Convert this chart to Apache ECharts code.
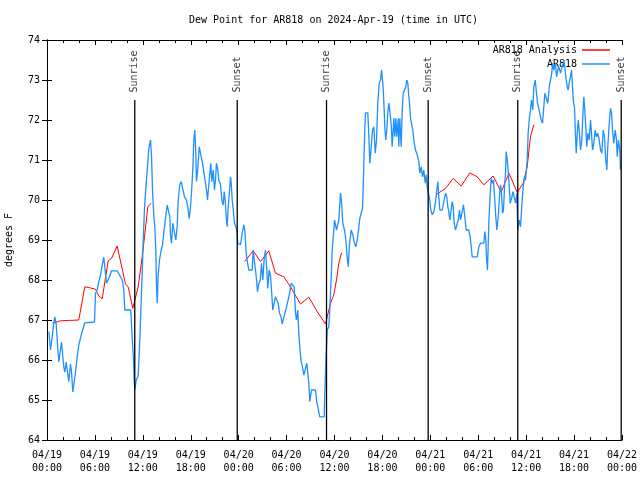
<!DOCTYPE html>
<html>
<head>
<meta charset="utf-8">
<script src="https://cdn.jsdelivr.net/npm/echarts@6/dist/echarts.min.js"></script>
<style>html,body{margin:0;padding:0;background:#fff}#c{width:640px;height:480px}</style>
</head>
<body>
<div id="c"></div>
<script>
// Hours since 2024-04-19 00:00 UTC
const xTickLabels = ['04/19\n00:00','04/19\n06:00','04/19\n12:00','04/19\n18:00','04/20\n00:00','04/20\n06:00','04/20\n12:00','04/20\n18:00','04/21\n00:00','04/21\n06:00','04/21\n12:00','04/21\n18:00','04/22\n00:00'];

const obsTimes = [0.23,0.44,0.65,0.85,0.98,1.15,1.35,1.48,1.65,1.82,1.98,2.10,2.23,2.40,2.57,2.73,2.94,3.07,3.23,3.41,3.57,3.78,3.98,4.23,4.48,4.73,4.91,5.95,6.07,6.29,6.49,6.70,6.91,7.11,7.33,7.45,7.66,7.83,8.08,8.79,8.99,9.42,9.62,9.74,10.49,10.67,10.83,10.92,10.99,11.17,11.42,11.62,11.80,11.92,12.05,12.21,12.37,12.55,12.75,12.96,13.09,13.21,13.37,13.50,13.62,13.71,13.80,13.92,14.09,14.30,14.46,14.63,14.84,15.05,15.25,15.38,15.46,15.59,15.75,16.00,16.13,16.30,16.43,16.63,16.80,17.05,17.22,17.47,17.63,17.81,17.97,18.09,18.22,18.31,18.38,18.51,18.63,18.72,18.88,19.06,19.22,19.35,19.47,19.63,19.81,19.97,20.10,20.31,20.39,20.51,20.64,20.81,20.97,21.10,21.22,21.39,21.51,21.73,21.89,22.06,22.19,22.31,22.44,22.56,22.69,22.85,22.98,23.07,23.19,23.32,23.48,23.64,23.77,23.89,24.02,24.23,24.44,24.64,24.77,24.94,25.11,25.27,25.70,25.82,26.02,26.20,26.36,26.52,26.70,26.86,27.02,27.20,27.36,27.52,27.65,27.82,27.99,28.11,28.27,28.45,28.61,28.83,28.95,29.11,29.28,29.45,29.65,29.78,29.95,30.12,30.28,30.45,30.58,30.78,30.95,31.12,31.24,31.40,31.53,31.66,31.83,31.99,32.16,32.37,32.53,32.71,32.78,32.91,33.12,33.62,33.78,34.03,34.16,34.71,34.79,34.96,35.09,35.29,35.41,35.59,35.71,35.91,36.00,36.25,36.54,36.75,36.88,37.04,37.25,37.42,37.59,37.72,37.88,38.09,38.29,38.50,38.67,38.84,39.01,39.17,39.38,39.51,39.59,39.67,39.79,39.88,40.17,40.30,40.42,40.60,40.76,40.92,41.10,41.26,41.42,41.60,41.76,41.89,42.05,42.17,42.30,42.42,42.55,42.67,42.80,42.93,43.01,43.14,43.22,43.35,43.43,43.55,43.68,43.80,43.98,44.05,44.18,44.35,44.48,44.60,44.77,44.93,45.05,45.18,45.27,45.39,45.52,45.68,45.81,45.93,46.14,46.36,46.56,46.68,46.86,47.02,47.18,47.36,47.48,47.61,47.77,47.90,48.06,48.24,48.44,48.65,48.81,48.94,49.06,49.19,49.49,49.69,49.90,50.06,50.19,50.31,50.44,50.61,50.74,50.86,50.99,51.15,51.37,51.49,51.65,51.78,51.99,52.15,52.32,52.49,52.82,52.99,53.12,53.24,53.87,54.07,54.28,54.70,54.82,54.95,55.03,55.16,55.32,55.50,55.62,55.75,55.91,56.04,56.20,56.32,56.50,56.66,56.79,56.91,57.04,57.16,57.29,57.41,57.50,57.63,57.75,57.88,58.00,58.17,58.33,58.50,58.67,58.83,58.95,59.13,59.29,59.50,59.63,59.79,59.92,60.13,60.25,60.38,60.54,60.67,60.83,60.96,61.13,61.30,61.42,61.58,61.71,61.88,62.05,62.21,62.34,62.55,62.71,62.89,63.05,63.21,63.30,63.46,63.67,63.80,63.96,64.09,64.30,64.51,64.64,64.71,64.84,64.96,65.14,65.26,65.39,65.55,65.68,65.80,65.93,66.05,66.18,66.27,66.39,66.52,66.64,66.81,66.97,67.09,67.22,67.34,67.47,67.59,67.72,67.89,68.06,68.18,68.31,68.47,68.65,68.81,68.97,69.15,69.31,69.47,69.65,69.81,69.97,70.10,70.22,70.40,70.56,70.69,70.81,70.97,71.15,71.31,71.40,71.56,71.72,71.81];

const obsValues = [66.71,66.25,66.58,66.92,67.08,66.9,66.3,65.95,66.2,66.45,66.45,65.83,65.7,65.95,66.0,65.46,65.9,65.7,65.2,65.45,65.7,66.08,66.37,66.58,66.62,66.93,66.95,66.95,67.67,67.75,67.96,68.12,68.37,68.57,68.57,67.92,67.92,68.08,68.23,68.23,68.2,68.0,67.75,67.25,67.25,66.55,66.0,65.5,65.25,65.5,65.6,66.5,67.5,68.17,69.0,69.8,70.29,70.75,71.29,71.5,71.1,70.25,69.63,69.33,68.75,67.88,67.42,68.13,68.5,68.75,68.87,69.2,69.54,69.87,69.87,69.58,69.12,68.92,69.42,69.42,69.0,69.33,70.0,70.38,70.46,70.42,70.08,70.0,69.83,69.54,69.83,70.17,70.63,71.04,71.5,71.75,71.17,70.46,70.79,71.33,71.33,71.04,70.92,70.71,70.71,70.25,70.0,70.0,70.67,70.92,70.46,70.75,70.25,70.5,70.92,70.75,70.5,70.38,70.0,69.87,70.21,70.0,69.58,69.33,69.83,70.21,70.58,70.42,70.0,69.75,69.42,69.42,69.25,68.92,68.88,68.88,69.17,69.38,69.25,68.67,68.42,68.25,68.25,68.75,68.75,68.08,67.71,67.9,68.0,68.42,68.0,68.54,68.75,68.25,67.79,68.25,68.1,67.75,67.25,67.42,67.58,67.58,67.42,67.17,67.1,66.9,66.9,67.17,67.29,67.29,67.58,67.75,67.92,67.96,67.83,67.17,67.0,67.25,66.67,66.29,65.96,65.83,65.62,65.62,65.92,65.92,65.42,64.96,65.25,65.25,64.96,64.96,64.58,64.58,65.2,66.17,66.75,66.83,67.25,68.08,68.75,69.25,69.5,69.25,69.5,70.17,69.96,69.42,69.25,69.0,68.58,68.33,68.9,69.25,69.13,68.92,68.83,69.0,69.25,69.54,69.54,69.8,70.29,70.92,71.75,72.18,72.18,71.6,70.92,71.33,71.75,71.83,71.17,71.5,72.42,72.92,73.0,73.25,72.92,72.5,71.83,71.5,71.75,72.17,72.42,72.42,72.08,71.75,71.33,71.75,72.04,71.58,72.04,71.58,72.04,71.33,72.04,71.33,72.25,72.67,72.67,72.83,73.0,72.92,72.67,72.42,72.04,72.04,71.75,71.5,71.25,71.13,70.96,70.67,70.83,70.58,70.75,70.42,70.63,70.33,70.17,70.04,69.75,69.63,69.71,69.96,70.25,70.46,70.08,69.75,69.75,69.96,70.17,70.08,69.83,69.71,69.5,69.5,69.96,69.83,69.42,69.25,69.25,69.5,69.75,69.5,69.71,69.88,69.58,69.25,69.25,69.08,68.83,68.58,68.58,68.83,68.92,68.92,69.21,69.0,68.58,68.25,69.42,70.17,70.54,70.42,70.5,70.08,69.58,69.25,69.58,70.08,70.38,70.17,69.67,69.75,70.33,70.67,71.21,71.0,70.71,70.33,69.92,70.04,70.21,70.17,69.92,70.17,69.25,69.5,69.33,70.0,70.33,70.58,70.5,71.0,71.67,72.0,72.25,72.5,72.25,72.83,73.0,72.67,72.42,72.46,72.17,72.0,71.92,72.33,72.67,72.67,72.42,72.83,72.83,73.17,73.42,73.25,73.42,73.08,73.25,73.33,73.17,73.33,73.42,73.5,73.33,73.08,72.83,72.75,72.92,73.08,73.25,72.83,72.42,72.33,71.58,71.17,71.67,72.0,71.75,71.25,71.5,72.08,72.58,72.25,71.83,71.33,71.67,71.5,72.0,71.67,71.25,71.42,71.75,71.58,71.67,71.5,71.25,71.17,71.75,71.58,71.0,70.75,71.33,71.92,72.29,72.17,71.75,71.42,71.75,71.5,71.08,71.5,71.25,70.75];

// Analysis (hourly), null separates the three runs
const anaTimes = [0.69,1.69,2.82,3.98,4.73,5.45,6.07,6.49,6.91,7.66,8.08,8.79,9.02,9.49,9.83,10.17,10.74,10.99,11.42,11.92,12.21,12.62,13.05,
  13.5,
  24.73,25.82,26.74,27.77,28.61,29.65,30.49,31.74,32.78,33.83,34.87,35.09,35.50,35.91,36.25,36.54,36.88,
  37.5,
  48.84,49.90,50.86,51.87,52.94,53.87,54.70,55.87,56.87,57.85,58.88,59.63,60.13,60.35,60.56,60.96];
const anaValues = [66.92,66.98,66.99,67.0,67.83,67.8,67.77,67.6,67.53,68.48,68.54,68.85,68.85,68.21,67.89,67.83,67.29,67.25,67.83,68.58,69.08,69.83,69.92,
  null,
  68.46,68.73,68.46,68.73,68.17,68.08,67.83,67.4,67.57,67.21,66.9,67.08,67.42,67.63,68.0,68.42,68.68,
  null,
  70.15,70.29,70.54,70.35,70.68,70.58,70.38,70.6,70.2,70.67,70.19,70.42,70.83,71.25,71.6,71.88];

const sunNames = ['Sunrise','Sunset','Sunrise','Sunset','Sunrise','Sunset'];
const sunTimes = [10.99,23.82,35.0,47.73,58.95,71.9];
const sunLineTop = 72.5;

const FONT = 'DejaVu Sans Mono';
const chart = echarts.init(document.getElementById('c'), null, {renderer:'canvas'});

const pair = (ts, vs) => ts.map((t, i) => [t, vs[i]]);

const sunLines = sunTimes.map((t, i) => ({
  type: 'line', name: 'sun' + i, silent: true, z: 5,
  symbol: 'none', showSymbol: false,
  lineStyle: {color: '#000', width: 1.3},
  data: [[t, 64], [t, sunLineTop]]
}));
const sunLabels = {
  type: 'scatter', name: 'sunLabels', silent: true, z: 6,
  symbol: 'circle', symbolSize: 1,
  itemStyle: {color: 'rgba(0,0,0,0)'},
  data: sunTimes.map(t => [t, sunLineTop]),
  label: {show: true, position: 'top', rotate: 90, align: 'left', verticalAlign: 'middle', distance: 7,
          fontFamily: FONT, fontSize: 10, color: '#000',
          formatter: p => sunNames[p.dataIndex]}
};

const xAxisBase = {
  type: 'value', min: 0, max: 72, interval: 6,
  axisLine: {show: true, lineStyle: {color: '#000', width: 1}},
  axisTick: {show: true, inside: true, length: 5, lineStyle: {color: '#000'}},
  minorTick: {show: true, splitNumber: 3, length: 3, lineStyle: {color: '#000'}},
  splitLine: {show: false}
};
const yAxisBase = {
  type: 'value', min: 64, max: 74, interval: 1,
  axisLine: {show: true, lineStyle: {color: '#000', width: 1}},
  axisTick: {show: true, inside: true, length: 5, lineStyle: {color: '#000'}},
  splitLine: {show: false}
};

chart.setOption({
  animation: false,
  backgroundColor: '#fff',
  title: {
    text: 'Dew Point for AR818 on 2024-Apr-19 (time in UTC)',
    left: 189, top: 15, padding: 0,
    textStyle: {fontFamily: FONT, fontSize: 10, fontWeight: 'normal', color: '#000'}
  },
  legend: [
    {data: ['AR818 Analysis'], right: 30, top: 45, padding: 0, icon: 'rect', itemWidth: 28, itemHeight: 1.5,
     align: 'right', textStyle: {fontFamily: FONT, fontSize: 10, color: '#000'}, selectedMode: false},
    {data: ['AR818'], right: 30, top: 59, padding: 0, icon: 'rect', itemWidth: 28, itemHeight: 1.5,
     align: 'right', textStyle: {fontFamily: FONT, fontSize: 10, color: '#000'}, selectedMode: false}
  ],
  grid: {left: 47, right: 18, top: 40, bottom: 40, containLabel: false, outerBoundsMode: 'none'},
  xAxis: [
    Object.assign({}, xAxisBase, {position: 'bottom',
      axisLabel: {show: true, margin: 9, fontFamily: FONT, fontSize: 10, color: '#000', lineHeight: 13,
        formatter: v => xTickLabels[Math.round(v / 6)]}}),
    Object.assign({}, xAxisBase, {position: 'top', axisLabel: {show: false}})
  ],
  yAxis: [
    Object.assign({}, yAxisBase, {position: 'left', name: 'degrees F', nameLocation: 'middle', nameRotate: 90, nameGap: 33,
      nameTextStyle: {fontFamily: FONT, fontSize: 10, color: '#000'},
      axisLabel: {show: true, margin: 7, fontFamily: FONT, fontSize: 10, color: '#000'}}),
    Object.assign({}, yAxisBase, {position: 'right', axisLabel: {show: false}})
  ],
  series: [
    {type: 'line', name: 'AR818 Analysis', symbol: 'none', showSymbol: false, connectNulls: false, z: 3,
     itemStyle: {color: '#ff0000'}, lineStyle: {color: '#ff0000', width: 1}, data: pair(anaTimes, anaValues)},
    {type: 'line', name: 'AR818', symbol: 'none', showSymbol: false, z: 4,
     itemStyle: {color: '#1e90ff'}, lineStyle: {color: '#1e90ff', width: 1.3}, data: pair(obsTimes, obsValues)}
  ].concat(sunLines, [sunLabels])
});
</script>
</body>
</html>
